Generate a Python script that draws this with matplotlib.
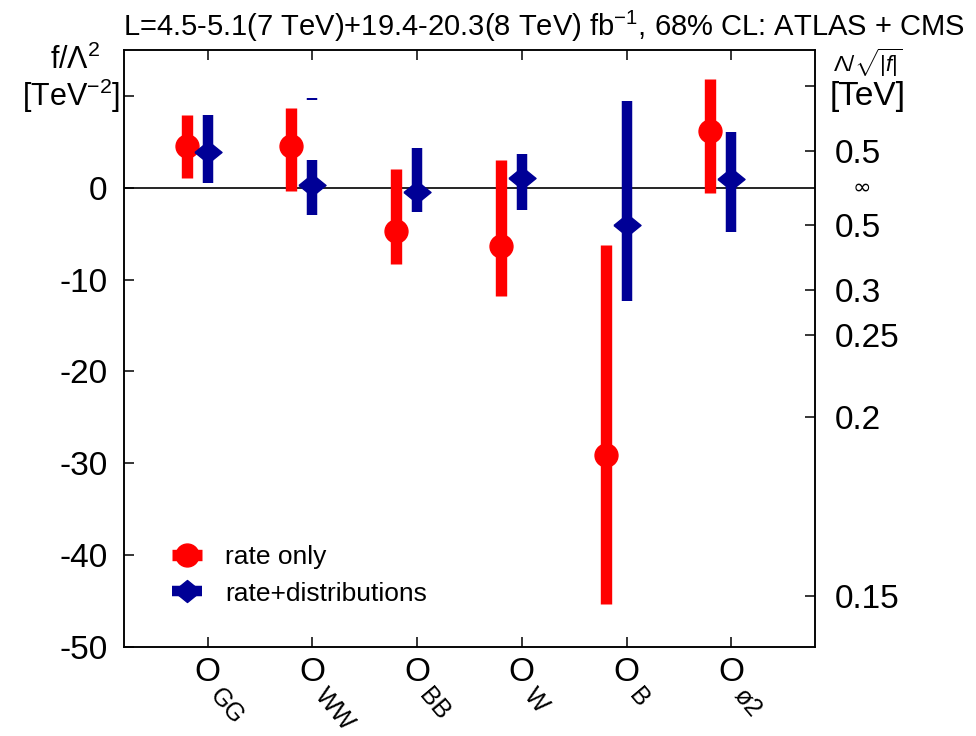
import matplotlib
matplotlib.use("Agg")
import matplotlib.pyplot as plt
from matplotlib.lines import Line2D
import numpy as np

plt.rcParams["font.family"] = ["Liberation Sans", "DejaVu Sans"]
plt.rcParams["mathtext.fontset"] = "custom"
plt.rcParams["mathtext.rm"] = "Liberation Sans"
plt.rcParams["mathtext.it"] = "Liberation Sans:italic"
plt.rcParams["axes.unicode_minus"] = False

RED, BLUE = "#ff0000", "#000096"

# ---- data -----------------------------------------------------------------
operators = ["GG", "WW", "BB", "W", "B", "ø2"]
rate_center = [4.5, 4.5, -4.75, -6.3, -29.1, 6.2]
rate_lo = [1.1, -0.4, -8.3, -11.8, -45.3, -0.6]
rate_hi = [7.9, 8.7, 2.0, 3.0, -6.2, 11.8]
dist_center = [3.95, 0.3, -0.5, 1.05, -4.1, 1.0]
dist_lo = [0.5, -3.0, -2.6, -2.4, -12.3, -4.85]
dist_hi = [7.9, 3.0, 4.3, 3.7, 9.4, 6.1]
# small detached piece of the rate+distributions interval for O_WW
dist_extra_op = [1]
dist_extra_lo = [9.55]
dist_extra_hi = [9.75]

left_ticks = [-50, -40, -30, -20, -10, 0, 10]
left_labels = ["-50", "-40", "-30", "-20", "-10", "0", ""]
# right axis: Lambda/sqrt|f| in TeV, sign = sign of f
right_lambda = [0.3, 0.5, -0.5, -0.3, -0.25, -0.2, -0.15]
right_labels = ["", "0.5", "0.5", "0.3", "0.25", "0.2", "0.15"]

# ---- figure -----------------------------------------------------------------
fig = plt.figure(figsize=(9.76, 7.36), dpi=100)
ax = fig.add_axes([0.127, 0.121, 0.708, 0.811])

x = np.arange(1, len(operators) + 1)
xr = x - 0.2

bw = 8.2
ax.vlines(xr, rate_lo, rate_hi, color=RED, lw=bw, capstyle="butt", zorder=3)
ax.vlines(x, dist_lo, dist_hi, color=BLUE, lw=bw * 0.92, capstyle="butt", zorder=3)
ax.vlines(np.array(dist_extra_op) + 1, dist_extra_lo, dist_extra_hi, color=BLUE,
          lw=bw * 0.92, capstyle="butt", zorder=3)

diamond = [(-1.23, 0), (0, 1), (1.23, 0), (0, -1), (-1.23, 0)]
ax.plot(xr, rate_center, ls="none", marker="o", ms=16.5, color=RED, mec=RED, zorder=4)
ax.plot(x, dist_center, ls="none", marker=diamond, ms=19.5, color=BLUE, mec=BLUE, zorder=4)

ax.axhline(0, color="black", lw=1.2, zorder=2)

ax.set_xlim(0.2, 6.8)
ax.set_ylim(-50, 15)
ax.set_yticks(left_ticks)
ax.set_yticklabels(left_labels)
ax.set_xticks(x)
ax.set_xticklabels([])
ax.tick_params(axis="y", direction="in", length=7, width=1.1, labelsize=24, pad=12)
ax.tick_params(axis="x", direction="in", length=7, width=1.1, top=True)
for s in ax.spines.values():
    s.set_linewidth(1.1)

# operator labels: upright O with rotated subscript
for xi, name in zip(x, operators):
    ax.text(xi, -51.1, "O", ha="center", va="top", fontsize=24)
    ax.text(xi + 0.15, -54.0, name, ha="left", va="top", fontsize=18,
            rotation=-50, rotation_mode="anchor")

# right axis
ax2 = ax.twinx()
ax2.set_ylim(ax.get_ylim())
rl = np.array(right_lambda)
ax2.set_yticks(np.sign(rl) / rl ** 2)
ax2.set_yticklabels(right_labels)
ax2.tick_params(axis="y", direction="in", length=7, width=1.1, labelsize=24, pad=14)
for s in ax2.spines.values():
    s.set_linewidth(1.1)
ax2.text(1.068, 0, "∞", transform=ax2.get_yaxis_transform(), ha="center",
         va="center", fontsize=16, family=["DejaVu Sans"])

# axis titles
fig.text(100 / 976, 1 - 60 / 736, "f/Λ$^{2}$", ha="right", va="center", fontsize=22)
fig.text(120 / 976, 1 - 96 / 736, "[TeV$^{-2}$]", ha="right", va="center", fontsize=22)
fig.text(0.889, 1 - 63 / 736, r"$\Lambda/\sqrt{|f|}$", ha="center", va="center", fontsize=16)
fig.text(0.889, 1 - 97 / 736, "[TeV]", ha="center", va="center", fontsize=24)

fig.text(0.557, 1 - 26 / 736,
         "L=4.5-5.1(7 TeV)+19.4-20.3(8 TeV) fb$^{-1}$, 68% CL: ATLAS + CMS",
         ha="center", va="center", fontsize=21)

# legend
handles = [
    Line2D([], [], color=RED, lw=bw, marker="o", ms=16.5, solid_capstyle="butt"),
    Line2D([], [], color=BLUE, lw=bw * 0.92, marker=diamond, ms=19.5, solid_capstyle="butt"),
]
ax.legend(handles, ["rate only", "rate+distributions"], loc="lower left",
          bbox_to_anchor=(0.0505, 0.047), frameon=False, fontsize=19,
          borderpad=0, handlelength=1.15, handletextpad=0.85, labelspacing=0.49)

fig.savefig("out.png", dpi=100)
